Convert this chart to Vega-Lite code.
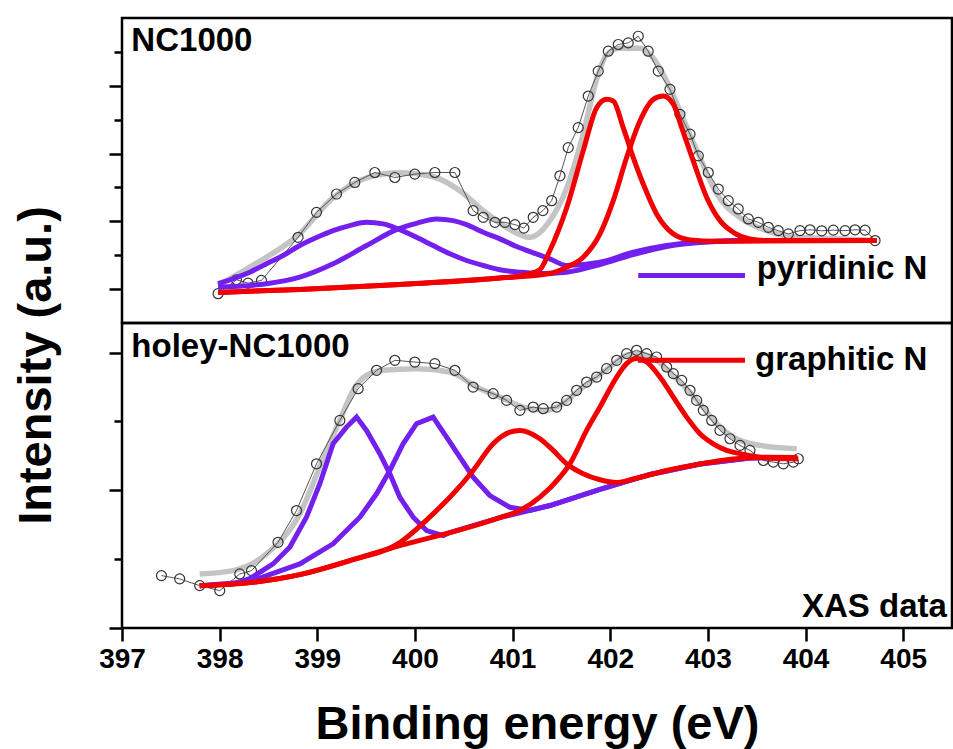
{
  "$schema": "https://vega.github.io/schema/vega-lite/v6.json",
  "background": "white",
  "padding": {"left": 10, "top": 16, "right": 0, "bottom": 0},
  "bounds": "flush",
  "spacing": 0,
  "config": {
    "font": "Liberation Sans",
    "view": {"stroke": "black", "strokeWidth": 2.5},
    "axis": {"domain": false, "grid": false, "tickColor": "black", "tickWidth": 2.5},
    "text": {"font": "Liberation Sans", "fontWeight": "bold", "fontSize": 33, "color": "black"}
  },
  "datasets": {
    "nc": [
      {"s": "fit", "x": 397.984, "y": 1.109}, {"s": "fit", "x": 398.308, "y": 1.647}, {"s": "fit", "x": 398.821, "y": 2.638},
      {"s": "fit", "x": 399.162, "y": 3.697}, {"s": "fit", "x": 399.504, "y": 4.285}, {"s": "fit", "x": 399.845, "y": 4.432},
      {"s": "fit", "x": 400.186, "y": 4.315}, {"s": "fit", "x": 400.46, "y": 3.903}, {"s": "fit", "x": 400.699, "y": 3.315},
      {"s": "fit", "x": 400.942, "y": 2.815}, {"s": "fit", "x": 401.177, "y": 2.529}, {"s": "fit", "x": 401.382, "y": 3.021},
      {"s": "fit", "x": 401.556, "y": 3.991}, {"s": "fit", "x": 401.723, "y": 5.579}, {"s": "fit", "x": 401.864, "y": 7.226},
      {"s": "fit", "x": 401.966, "y": 7.932}, {"s": "fit", "x": 402.099, "y": 8.109}, {"s": "fit", "x": 402.304, "y": 8.109},
      {"s": "fit", "x": 402.441, "y": 7.815}, {"s": "fit", "x": 402.578, "y": 7.138}, {"s": "fit", "x": 402.714, "y": 6.256},
      {"s": "fit", "x": 402.919, "y": 4.874}, {"s": "fit", "x": 403.09, "y": 3.815}, {"s": "fit", "x": 403.329, "y": 3.109},
      {"s": "fit", "x": 403.603, "y": 2.726}, {"s": "fit", "x": 403.944, "y": 2.521}, {"s": "fit", "x": 404.285, "y": 2.491},
      {"s": "fit", "x": 404.692, "y": 2.432},

      {"s": "data", "x": 397.984, "y": 0.865}, {"s": "data", "x": 398.172, "y": 1.276}, {"s": "data", "x": 398.291, "y": 1.176},
      {"s": "data", "x": 398.428, "y": 1.256}, {"s": "data", "x": 398.803, "y": 2.529}, {"s": "data", "x": 398.992, "y": 3.265},
      {"s": "data", "x": 399.197, "y": 3.806}, {"s": "data", "x": 399.384, "y": 4.147}, {"s": "data", "x": 399.589, "y": 4.441},
      {"s": "data", "x": 399.794, "y": 4.294}, {"s": "data", "x": 399.999, "y": 4.394}, {"s": "data", "x": 400.204, "y": 4.441},
      {"s": "data", "x": 400.409, "y": 4.441}, {"s": "data", "x": 400.596, "y": 3.315}, {"s": "data", "x": 400.699, "y": 3.118},
      {"s": "data", "x": 400.819, "y": 2.971}, {"s": "data", "x": 400.921, "y": 2.971}, {"s": "data", "x": 401.024, "y": 2.903},
      {"s": "data", "x": 401.116, "y": 2.8}, {"s": "data", "x": 401.211, "y": 3.118}, {"s": "data", "x": 401.31, "y": 3.315},
      {"s": "data", "x": 401.4, "y": 3.609}, {"s": "data", "x": 401.485, "y": 4.344}, {"s": "data", "x": 401.57, "y": 5.176},
      {"s": "data", "x": 401.672, "y": 5.765}, {"s": "data", "x": 401.775, "y": 6.697}, {"s": "data", "x": 401.877, "y": 7.432},
      {"s": "data", "x": 401.98, "y": 8.021}, {"s": "data", "x": 402.082, "y": 8.218}, {"s": "data", "x": 402.184, "y": 8.265},
      {"s": "data", "x": 402.287, "y": 8.462}, {"s": "data", "x": 402.389, "y": 8.021}, {"s": "data", "x": 402.492, "y": 7.432},
      {"s": "data", "x": 402.612, "y": 6.894}, {"s": "data", "x": 402.714, "y": 6.159}, {"s": "data", "x": 402.817, "y": 5.571},
      {"s": "data", "x": 402.902, "y": 4.932}, {"s": "data", "x": 403.004, "y": 4.441}, {"s": "data", "x": 403.107, "y": 3.953},
      {"s": "data", "x": 403.209, "y": 3.609}, {"s": "data", "x": 403.311, "y": 3.365}, {"s": "data", "x": 403.414, "y": 3.071},
      {"s": "data", "x": 403.516, "y": 2.971}, {"s": "data", "x": 403.619, "y": 2.824}, {"s": "data", "x": 403.721, "y": 2.726},
      {"s": "data", "x": 403.824, "y": 2.629}, {"s": "data", "x": 403.943, "y": 2.726}, {"s": "data", "x": 404.046, "y": 2.75},
      {"s": "data", "x": 404.166, "y": 2.72}, {"s": "data", "x": 404.285, "y": 2.74}, {"s": "data", "x": 404.405, "y": 2.726},
      {"s": "data", "x": 404.507, "y": 2.75}, {"s": "data", "x": 404.61, "y": 2.74}, {"s": "data", "x": 404.712, "y": 2.432},

      {"s": "p1", "x": 397.984, "y": 1.159}, {"s": "p1", "x": 398.308, "y": 1.5}, {"s": "p1", "x": 398.48, "y": 1.747},
      {"s": "p1", "x": 398.65, "y": 1.991}, {"s": "p1", "x": 398.821, "y": 2.285}, {"s": "p1", "x": 398.992, "y": 2.521},
      {"s": "p1", "x": 399.162, "y": 2.726}, {"s": "p1", "x": 399.333, "y": 2.874}, {"s": "p1", "x": 399.504, "y": 2.971},
      {"s": "p1", "x": 399.674, "y": 2.924}, {"s": "p1", "x": 399.828, "y": 2.776}, {"s": "p1", "x": 400.016, "y": 2.529},
      {"s": "p1", "x": 400.186, "y": 2.285}, {"s": "p1", "x": 400.358, "y": 2.041}, {"s": "p1", "x": 400.529, "y": 1.844},
      {"s": "p1", "x": 400.699, "y": 1.697}, {"s": "p1", "x": 400.87, "y": 1.571}, {"s": "p1", "x": 401.075, "y": 1.5},
      {"s": "p1", "x": 401.28, "y": 1.462}, {"s": "p1", "x": 401.553, "y": 1.5}, {"s": "p1", "x": 401.895, "y": 1.726},
      {"s": "p1", "x": 402.236, "y": 2.021}, {"s": "p1", "x": 402.578, "y": 2.256}, {"s": "p1", "x": 402.919, "y": 2.374},
      {"s": "p1", "x": 403.26, "y": 2.418}, {"s": "p1", "x": 403.603, "y": 2.432}, {"s": "p1", "x": 404.73, "y": 2.432},

      {"s": "p2", "x": 397.984, "y": 1.059}, {"s": "p2", "x": 398.48, "y": 1.159}, {"s": "p2", "x": 398.821, "y": 1.353},
      {"s": "p2", "x": 399.162, "y": 1.747}, {"s": "p2", "x": 399.504, "y": 2.285}, {"s": "p2", "x": 399.828, "y": 2.776},
      {"s": "p2", "x": 400.016, "y": 2.941}, {"s": "p2", "x": 400.221, "y": 3.071}, {"s": "p2", "x": 400.391, "y": 3.021},
      {"s": "p2", "x": 400.529, "y": 2.903}, {"s": "p2", "x": 400.699, "y": 2.676}, {"s": "p2", "x": 400.87, "y": 2.482},
      {"s": "p2", "x": 401.041, "y": 2.256}, {"s": "p2", "x": 401.211, "y": 2.071}, {"s": "p2", "x": 401.382, "y": 1.894},
      {"s": "p2", "x": 401.553, "y": 1.697}, {"s": "p2", "x": 401.895, "y": 1.794}, {"s": "p2", "x": 402.236, "y": 2.088},
      {"s": "p2", "x": 402.578, "y": 2.285}, {"s": "p2", "x": 402.919, "y": 2.382}, {"s": "p2", "x": 403.26, "y": 2.432},
      {"s": "p2", "x": 404.73, "y": 2.432},

      {"s": "g1", "x": 397.984, "y": 0.903}, {"s": "g1", "x": 398.821, "y": 0.991}, {"s": "g1", "x": 399.845, "y": 1.138},
      {"s": "g1", "x": 400.87, "y": 1.329}, {"s": "g1", "x": 401.075, "y": 1.388}, {"s": "g1", "x": 401.28, "y": 1.579},
      {"s": "g1", "x": 401.382, "y": 2.138}, {"s": "g1", "x": 401.553, "y": 3.391}, {"s": "g1", "x": 401.723, "y": 5.079},
      {"s": "g1", "x": 401.861, "y": 6.353}, {"s": "g1", "x": 401.963, "y": 6.6}, {"s": "g1", "x": 402.031, "y": 6.55},
      {"s": "g1", "x": 402.133, "y": 5.765}, {"s": "g1", "x": 402.236, "y": 4.882}, {"s": "g1", "x": 402.338, "y": 4.1},
      {"s": "g1", "x": 402.475, "y": 3.218}, {"s": "g1", "x": 402.646, "y": 2.629}, {"s": "g1", "x": 402.817, "y": 2.453},
      {"s": "g1", "x": 403.09, "y": 2.412}, {"s": "g1", "x": 404.73, "y": 2.432},

      {"s": "g2", "x": 397.984, "y": 0.903}, {"s": "g2", "x": 398.821, "y": 0.991}, {"s": "g2", "x": 399.845, "y": 1.138},
      {"s": "g2", "x": 400.87, "y": 1.329}, {"s": "g2", "x": 401.382, "y": 1.462}, {"s": "g2", "x": 401.553, "y": 1.647},
      {"s": "g2", "x": 401.723, "y": 1.941}, {"s": "g2", "x": 401.895, "y": 2.629}, {"s": "g2", "x": 402.031, "y": 3.609},
      {"s": "g2", "x": 402.168, "y": 4.882}, {"s": "g2", "x": 402.304, "y": 5.962}, {"s": "g2", "x": 402.441, "y": 6.6},
      {"s": "g2", "x": 402.543, "y": 6.697}, {"s": "g2", "x": 402.646, "y": 6.453}, {"s": "g2", "x": 402.732, "y": 5.765},
      {"s": "g2", "x": 402.85, "y": 4.785}, {"s": "g2", "x": 402.988, "y": 3.706}, {"s": "g2", "x": 403.124, "y": 3.021},
      {"s": "g2", "x": 403.26, "y": 2.676}, {"s": "g2", "x": 403.431, "y": 2.482}, {"s": "g2", "x": 403.603, "y": 2.432},
      {"s": "g2", "x": 404.73, "y": 2.432}
    ],
    "holey": [
      {"s": "fit", "x": 397.796, "y": 0.785}, {"s": "fit", "x": 398.137, "y": 0.833}, {"s": "fit", "x": 398.48, "y": 1.076},
      {"s": "fit", "x": 398.821, "y": 1.658}, {"s": "fit", "x": 399.094, "y": 2.579}, {"s": "fit", "x": 399.231, "y": 3.015},
      {"s": "fit", "x": 399.367, "y": 3.452}, {"s": "fit", "x": 399.504, "y": 3.67}, {"s": "fit", "x": 399.674, "y": 3.743},
      {"s": "fit", "x": 400.016, "y": 3.767}, {"s": "fit", "x": 400.358, "y": 3.718}, {"s": "fit", "x": 400.631, "y": 3.5},
      {"s": "fit", "x": 400.87, "y": 3.354}, {"s": "fit", "x": 401.109, "y": 3.209}, {"s": "fit", "x": 401.348, "y": 3.161},
      {"s": "fit", "x": 401.451, "y": 3.209}, {"s": "fit", "x": 401.723, "y": 3.5}, {"s": "fit", "x": 401.997, "y": 3.791},
      {"s": "fit", "x": 402.168, "y": 3.961}, {"s": "fit", "x": 402.304, "y": 3.985}, {"s": "fit", "x": 402.475, "y": 3.888},
      {"s": "fit", "x": 402.68, "y": 3.622}, {"s": "fit", "x": 402.919, "y": 3.258}, {"s": "fit", "x": 403.09, "y": 2.967},
      {"s": "fit", "x": 403.26, "y": 2.772}, {"s": "fit", "x": 403.534, "y": 2.652}, {"s": "fit", "x": 403.91, "y": 2.604},

      {"s": "data", "x": 397.404, "y": 0.761}, {"s": "data", "x": 397.591, "y": 0.713}, {"s": "data", "x": 397.796, "y": 0.615},
      {"s": "data", "x": 398.001, "y": 0.543}, {"s": "data", "x": 398.206, "y": 0.785}, {"s": "data", "x": 398.326, "y": 0.833},
      {"s": "data", "x": 398.598, "y": 1.245}, {"s": "data", "x": 398.787, "y": 1.706}, {"s": "data", "x": 398.992, "y": 2.385},
      {"s": "data", "x": 399.231, "y": 3.015}, {"s": "data", "x": 399.418, "y": 3.476}, {"s": "data", "x": 399.607, "y": 3.743},
      {"s": "data", "x": 399.794, "y": 3.888}, {"s": "data", "x": 399.999, "y": 3.863}, {"s": "data", "x": 400.204, "y": 3.84},
      {"s": "data", "x": 400.409, "y": 3.743}, {"s": "data", "x": 400.596, "y": 3.5}, {"s": "data", "x": 400.801, "y": 3.404},
      {"s": "data", "x": 400.939, "y": 3.306}, {"s": "data", "x": 401.075, "y": 3.161}, {"s": "data", "x": 401.211, "y": 3.209},
      {"s": "data", "x": 401.314, "y": 3.185}, {"s": "data", "x": 401.451, "y": 3.209}, {"s": "data", "x": 401.553, "y": 3.306},
      {"s": "data", "x": 401.656, "y": 3.452}, {"s": "data", "x": 401.758, "y": 3.572}, {"s": "data", "x": 401.861, "y": 3.645},
      {"s": "data", "x": 401.963, "y": 3.767}, {"s": "data", "x": 402.066, "y": 3.888}, {"s": "data", "x": 402.168, "y": 3.985},
      {"s": "data", "x": 402.27, "y": 4.033}, {"s": "data", "x": 402.373, "y": 3.985}, {"s": "data", "x": 402.475, "y": 3.936},
      {"s": "data", "x": 402.578, "y": 3.791}, {"s": "data", "x": 402.646, "y": 3.695}, {"s": "data", "x": 402.732, "y": 3.597},
      {"s": "data", "x": 402.817, "y": 3.452}, {"s": "data", "x": 402.885, "y": 3.306}, {"s": "data", "x": 402.953, "y": 3.161},
      {"s": "data", "x": 403.039, "y": 3.015}, {"s": "data", "x": 403.124, "y": 2.87}, {"s": "data", "x": 403.226, "y": 2.749},
      {"s": "data", "x": 403.329, "y": 2.652}, {"s": "data", "x": 403.431, "y": 2.579}, {"s": "data", "x": 403.568, "y": 2.433},
      {"s": "data", "x": 403.67, "y": 2.409}, {"s": "data", "x": 403.773, "y": 2.385}, {"s": "data", "x": 403.875, "y": 2.409},
      {"s": "data", "x": 403.926, "y": 2.458},

      {"s": "p3", "x": 397.796, "y": 0.615}, {"s": "p3", "x": 398.137, "y": 0.64}, {"s": "p3", "x": 398.308, "y": 0.717},
      {"s": "p3", "x": 398.547, "y": 0.931}, {"s": "p3", "x": 398.718, "y": 1.172}, {"s": "p3", "x": 398.889, "y": 1.609},
      {"s": "p3", "x": 399.026, "y": 2.095}, {"s": "p3", "x": 399.162, "y": 2.676}, {"s": "p3", "x": 399.299, "y": 2.918},
      {"s": "p3", "x": 399.402, "y": 3.063}, {"s": "p3", "x": 399.504, "y": 2.87}, {"s": "p3", "x": 399.64, "y": 2.531},
      {"s": "p3", "x": 399.743, "y": 2.24}, {"s": "p3", "x": 399.845, "y": 1.9}, {"s": "p3", "x": 399.982, "y": 1.609},
      {"s": "p3", "x": 400.119, "y": 1.415}, {"s": "p3", "x": 400.289, "y": 1.343}, {"s": "p3", "x": 400.358, "y": 1.386},
      {"s": "p3", "x": 400.87, "y": 1.604}, {"s": "p3", "x": 401.382, "y": 1.779}, {"s": "p3", "x": 401.895, "y": 2.012},
      {"s": "p3", "x": 402.407, "y": 2.23}, {"s": "p3", "x": 402.919, "y": 2.383}, {"s": "p3", "x": 403.431, "y": 2.47},
      {"s": "p3", "x": 403.914, "y": 2.477},

      {"s": "p4", "x": 397.796, "y": 0.615}, {"s": "p4", "x": 398.308, "y": 0.673}, {"s": "p4", "x": 398.821, "y": 0.931},
      {"s": "p4", "x": 399.162, "y": 1.222}, {"s": "p4", "x": 399.436, "y": 1.609}, {"s": "p4", "x": 399.607, "y": 1.949},
      {"s": "p4", "x": 399.743, "y": 2.288}, {"s": "p4", "x": 399.879, "y": 2.676}, {"s": "p4", "x": 400.016, "y": 2.967},
      {"s": "p4", "x": 400.186, "y": 3.063}, {"s": "p4", "x": 400.324, "y": 2.772}, {"s": "p4", "x": 400.46, "y": 2.481},
      {"s": "p4", "x": 400.596, "y": 2.191}, {"s": "p4", "x": 400.767, "y": 1.924}, {"s": "p4", "x": 400.972, "y": 1.754},
      {"s": "p4", "x": 401.177, "y": 1.706}, {"s": "p4", "x": 401.382, "y": 1.779}, {"s": "p4", "x": 401.895, "y": 2.012},
      {"s": "p4", "x": 402.407, "y": 2.23}, {"s": "p4", "x": 402.919, "y": 2.383}, {"s": "p4", "x": 403.431, "y": 2.47},
      {"s": "p4", "x": 403.914, "y": 2.477},

      {"s": "g3", "x": 397.796, "y": 0.615}, {"s": "g3", "x": 398.308, "y": 0.659}, {"s": "g3", "x": 398.821, "y": 0.775},
      {"s": "g3", "x": 399.333, "y": 0.979}, {"s": "g3", "x": 399.845, "y": 1.241}, {"s": "g3", "x": 400.186, "y": 1.658},
      {"s": "g3", "x": 400.391, "y": 1.949}, {"s": "g3", "x": 400.596, "y": 2.288}, {"s": "g3", "x": 400.801, "y": 2.676},
      {"s": "g3", "x": 400.972, "y": 2.845}, {"s": "g3", "x": 401.075, "y": 2.87}, {"s": "g3", "x": 401.28, "y": 2.749},
      {"s": "g3", "x": 401.416, "y": 2.579}, {"s": "g3", "x": 401.553, "y": 2.385}, {"s": "g3", "x": 401.723, "y": 2.24},
      {"s": "g3", "x": 401.895, "y": 2.153}, {"s": "g3", "x": 402.066, "y": 2.113}, {"s": "g3", "x": 402.236, "y": 2.164},
      {"s": "g3", "x": 402.578, "y": 2.288}, {"s": "g3", "x": 402.919, "y": 2.383}, {"s": "g3", "x": 403.26, "y": 2.455},
      {"s": "g3", "x": 403.603, "y": 2.481}, {"s": "g3", "x": 403.914, "y": 2.477},

      {"s": "g4", "x": 397.796, "y": 0.615}, {"s": "g4", "x": 398.308, "y": 0.659}, {"s": "g4", "x": 398.821, "y": 0.775},
      {"s": "g4", "x": 399.333, "y": 0.979}, {"s": "g4", "x": 399.845, "y": 1.197}, {"s": "g4", "x": 400.358, "y": 1.386},
      {"s": "g4", "x": 400.87, "y": 1.604}, {"s": "g4", "x": 401.075, "y": 1.706}, {"s": "g4", "x": 401.28, "y": 1.9},
      {"s": "g4", "x": 401.485, "y": 2.191}, {"s": "g4", "x": 401.587, "y": 2.385}, {"s": "g4", "x": 401.758, "y": 2.87},
      {"s": "g4", "x": 401.895, "y": 3.209}, {"s": "g4", "x": 402.066, "y": 3.645}, {"s": "g4", "x": 402.168, "y": 3.84},
      {"s": "g4", "x": 402.27, "y": 3.913}, {"s": "g4", "x": 402.373, "y": 3.863}, {"s": "g4", "x": 402.509, "y": 3.645},
      {"s": "g4", "x": 402.646, "y": 3.354}, {"s": "g4", "x": 402.783, "y": 3.063}, {"s": "g4", "x": 402.919, "y": 2.822},
      {"s": "g4", "x": 403.055, "y": 2.676}, {"s": "g4", "x": 403.193, "y": 2.579}, {"s": "g4", "x": 403.329, "y": 2.531},
      {"s": "g4", "x": 403.534, "y": 2.481}, {"s": "g4", "x": 403.773, "y": 2.458}, {"s": "g4", "x": 403.926, "y": 2.458}
    ],
    "ncKey": [{"x": 402.287, "x2": 403.38, "y": 1.403, "ty": 1.306, "tx": 403.5, "label": "pyridinic N"}],
    "holeyKey": [{"x": 402.284, "x2": 403.38, "y": 3.888, "ty": 3.743, "tx": 403.483, "label": "graphitic N"}],
    "ncTag": [{"x": 397.096, "y": 8.02, "label": "NC1000"}],
    "holeyTag": [{"x": 397.096, "y": 3.936, "label": "holey-NC1000"}],
    "sourceTag": [{"x": 405.447, "y": 0.154, "label": "XAS data"}]
  },
  "vconcat": [
    {
      "width": 830,
      "height": 305,
      "data": {"name": "nc"},
      "encoding": {
        "x": {"field": "x", "type": "quantitative", "scale": {"domain": [397, 405.5], "nice": false, "zero": false}, "axis": null},
        "y": {
          "field": "y", "type": "quantitative",
          "scale": {"domain": [0, 9], "nice": false, "zero": false},
          "axis": {
            "values": [1, 2, 3, 4, 5, 6, 7, 8], "labels": false, "title": null,
            "tickSize": {"condition": {"test": "datum.value % 2 === 1", "value": 13}, "value": 8}
          }
        }
      },
      "layer": [
        {"transform": [{"filter": "datum.s === 'fit'"}], "mark": {"type": "line", "color": "#c4c4c4", "strokeWidth": 5.5, "interpolate": "monotone"}},
        {"transform": [{"filter": "datum.s === 'data'"}], "mark": {"type": "line", "color": "#555555", "strokeWidth": 1}},
        {"transform": [{"filter": "datum.s === 'data'"}], "mark": {"type": "point", "shape": "circle", "filled": false, "size": 100, "stroke": "#333333", "strokeWidth": 1.2, "opacity": 1}},
        {"transform": [{"filter": "datum.s === 'p1' || datum.s === 'p2'"}], "mark": {"type": "line", "color": "#7320ee", "strokeWidth": 5, "interpolate": "monotone"}, "encoding": {"detail": {"field": "s"}}},
        {"transform": [{"filter": "datum.s === 'g1' || datum.s === 'g2'"}], "mark": {"type": "line", "color": "#f00000", "strokeWidth": 5, "interpolate": "monotone"}, "encoding": {"detail": {"field": "s"}}},
        {"data": {"name": "ncKey"}, "mark": {"type": "rule", "color": "#7320ee", "strokeWidth": 5}, "encoding": {"x2": {"field": "x2"}}},
        {"data": {"name": "ncKey"}, "mark": {"type": "text", "align": "left", "baseline": "alphabetic"}, "encoding": {"x": {"field": "tx", "type": "quantitative"}, "y": {"field": "ty", "type": "quantitative"}, "text": {"field": "label"}}},
        {"data": {"name": "ncTag"}, "mark": {"type": "text", "align": "left", "baseline": "alphabetic"}, "encoding": {"text": {"field": "label"}}}
      ]
    },
    {
      "width": 830,
      "height": 305,
      "data": {"name": "holey"},
      "encoding": {
        "x": {
          "field": "x", "type": "quantitative",
          "scale": {"domain": [397, 405.5], "nice": false, "zero": false},
          "axis": {
            "values": [397, 397.5, 398, 398.5, 399, 399.5, 400, 400.5, 401, 401.5, 402, 402.5, 403, 403.5, 404, 404.5, 405],
            "format": "d",
            "labelExpr": "datum.value % 1 === 0 ? datum.label : ''",
            "labelFont": "Liberation Sans", "labelFontWeight": "bold", "labelFontSize": 28, "labelColor": "black",
            "labelPadding": 4, "labelFlush": false, "labelOverlap": false,
            "tickSize": {"condition": {"test": "datum.value % 1 === 0", "value": 13}, "value": 8},
            "title": "Binding energy (eV)",
            "titleFont": "Liberation Sans", "titleFontWeight": "bold", "titleFontSize": 47, "titleColor": "black",
            "titleX": 415, "titleY": 110, "titleAlign": "center", "titleBaseline": "alphabetic"
          }
        },
        "y": {
          "field": "y", "type": "quantitative",
          "scale": {"domain": [0, 4.43], "nice": false, "zero": false},
          "axis": {
            "values": [0, 1, 2, 3, 4], "labels": false,
            "tickSize": {"condition": {"test": "datum.value % 2 === 0", "value": 13}, "value": 8},
            "title": "Intensity (a.u.)",
            "titleFont": "Liberation Sans", "titleFontWeight": "bold", "titleFontSize": 47, "titleColor": "black",
            "titleAngle": 270, "titleX": -72, "titleY": 42, "titleAlign": "center", "titleBaseline": "alphabetic"
          }
        }
      },
      "layer": [
        {"transform": [{"filter": "datum.s === 'fit'"}], "mark": {"type": "line", "color": "#c4c4c4", "strokeWidth": 5.5, "interpolate": "monotone"}},
        {"transform": [{"filter": "datum.s === 'data'"}], "mark": {"type": "line", "color": "#555555", "strokeWidth": 1}},
        {"transform": [{"filter": "datum.s === 'data'"}], "mark": {"type": "point", "shape": "circle", "filled": false, "size": 100, "stroke": "#333333", "strokeWidth": 1.2, "opacity": 1}},
        {"transform": [{"filter": "datum.s === 'p3' || datum.s === 'p4'"}], "mark": {"type": "line", "color": "#7320ee", "strokeWidth": 5}, "encoding": {"detail": {"field": "s"}}},
        {"transform": [{"filter": "datum.s === 'g3' || datum.s === 'g4'"}], "mark": {"type": "line", "color": "#f00000", "strokeWidth": 5, "interpolate": "monotone"}, "encoding": {"detail": {"field": "s"}}},
        {"data": {"name": "holeyKey"}, "mark": {"type": "rule", "color": "#f00000", "strokeWidth": 5}, "encoding": {"x2": {"field": "x2"}}},
        {"data": {"name": "holeyKey"}, "mark": {"type": "text", "align": "left", "baseline": "alphabetic"}, "encoding": {"x": {"field": "tx", "type": "quantitative"}, "y": {"field": "ty", "type": "quantitative"}, "text": {"field": "label"}}},
        {"data": {"name": "holeyTag"}, "mark": {"type": "text", "align": "left", "baseline": "alphabetic"}, "encoding": {"text": {"field": "label"}}},
        {"data": {"name": "sourceTag"}, "mark": {"type": "text", "align": "right", "baseline": "alphabetic"}, "encoding": {"text": {"field": "label"}}}
      ]
    }
  ]
}
